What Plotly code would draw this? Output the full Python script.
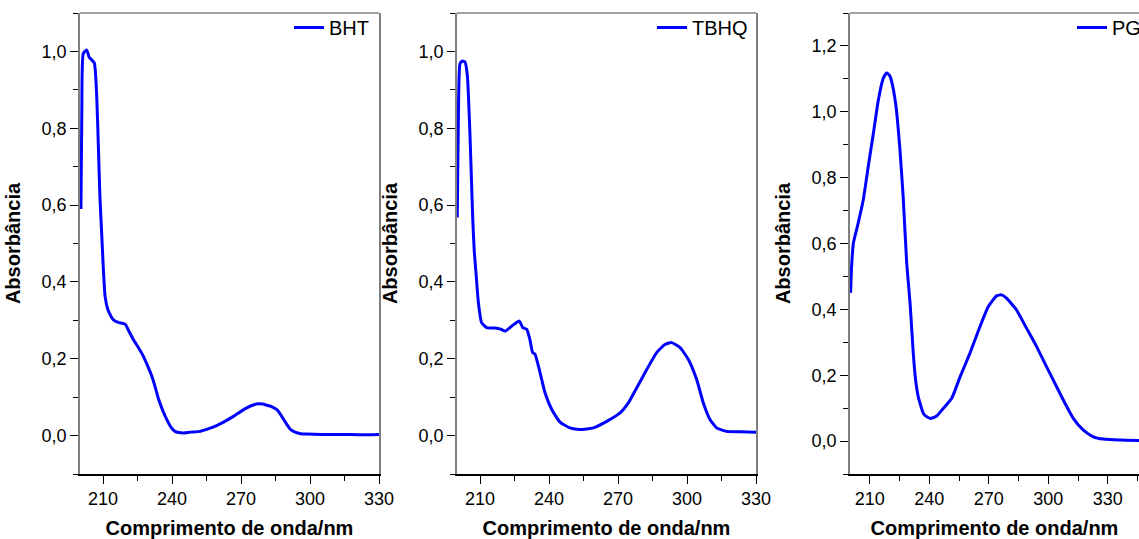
import plotly.graph_objects as go

# ---------------- data ----------------
bht_wl = [200.4, 200.8, 201.4, 202.9, 204.0, 206.2, 207.3, 208.0, 208.7, 209.4, 210.1, 210.9,
          212.0, 213.0, 214.0, 215.2, 217.0, 219.6, 221.0, 223.2, 225.5, 227.5, 229.5, 231.2,
          232.5, 234.0, 236.0, 237.7, 239.5, 241.3, 243.0, 244.9, 248.0, 252.2, 256.0, 259.4,
          263.0, 266.7, 270.0, 272.5, 275.0, 277.5, 279.5, 281.2, 283.5, 285.5, 287.5, 289.9,
          291.5, 293.5, 296.0, 298.6, 305.0, 315.0, 322.0, 330.0]
bht_abs = [0.59, 0.85, 0.994, 1.004, 0.985, 0.97, 0.877, 0.75, 0.616, 0.53, 0.44, 0.363,
           0.33, 0.316, 0.305, 0.298, 0.294, 0.29, 0.275, 0.25, 0.228, 0.207, 0.18, 0.155,
           0.13, 0.098, 0.065, 0.042, 0.022, 0.011, 0.008, 0.007, 0.009, 0.011, 0.018, 0.026,
           0.037, 0.05, 0.063, 0.072, 0.079, 0.083, 0.082, 0.079, 0.075, 0.068, 0.052, 0.029,
           0.016, 0.009, 0.005, 0.004, 0.003, 0.003, 0.002, 0.003]

tbhq_wl = [200.1, 200.7, 201.3, 202.3, 203.5, 204.5, 205.6, 206.8, 207.5, 208.3, 209.3, 210.7,
           212.9, 216.5, 219.0, 220.9, 223.8, 227.1, 228.6, 230.3, 231.7, 232.9, 233.9, 236.1,
           238.3, 241.2, 244.8, 249.1, 253.5, 259.3, 265.1, 270.9, 274.5, 278.1, 282.5, 286.8,
           290.4, 293.3, 297.0, 300.6, 304.2, 307.1, 310.0, 312.9, 317.2, 323.0, 330.0]
tbhq_abs = [0.568, 0.877, 0.968, 0.975, 0.972, 0.937, 0.79, 0.572, 0.48, 0.42, 0.346, 0.294,
            0.281, 0.28, 0.277, 0.272, 0.285, 0.298, 0.281, 0.277, 0.25, 0.216, 0.212, 0.164,
            0.111, 0.068, 0.035, 0.02, 0.016, 0.02, 0.037, 0.059, 0.085, 0.124, 0.172, 0.216,
            0.237, 0.242, 0.229, 0.198, 0.146, 0.085, 0.042, 0.02, 0.011, 0.01, 0.009]

pg_wl = [200.3, 200.8, 201.7, 203.7, 206.7, 209.2, 211.8, 214.3, 216.8, 218.5, 220.0, 221.0,
         223.2, 225.2, 226.9, 228.6, 230.3, 231.9, 233.0, 234.4, 237.0, 238.5, 240.3, 241.5,
         243.7, 247.0, 251.3, 255.5, 260.5, 265.5, 269.7, 273.9, 276.4, 278.9, 284.0, 289.0,
         294.1, 299.1, 304.2, 308.4, 312.6, 317.7, 322.7, 327.8, 336.2, 345.8]
pg_abs = [0.45, 0.53, 0.601, 0.651, 0.733, 0.834, 0.935, 1.036, 1.102, 1.118, 1.11, 1.092,
          1.016, 0.884, 0.733, 0.54, 0.419, 0.267, 0.19, 0.135, 0.084, 0.075, 0.069, 0.07,
          0.076, 0.099, 0.13, 0.195, 0.267, 0.347, 0.408, 0.441, 0.444, 0.434, 0.398, 0.343,
          0.287, 0.226, 0.165, 0.115, 0.069, 0.033, 0.013, 0.006, 0.003, 0.002]

series_names = ["BHT", "TBHQ", "PG"]
x_title = "Comprimento de onda/nm"
y_title = "Absorbância"

# ---------------- layout geometry ----------------
W, H = 1139, 539
ML, MR, MT, MB = 80, 0, 13, 65
PW = W - ML - MR
PH = H - MT - MB

def fx(px):
    return (px - ML) / PW

panels = [
    dict(x=bht_wl, y=bht_abs, dom=[fx(80), fx(379)], xr=[200, 330], yr=[-0.1, 1.1], leg_x=fx(289)),
    dict(x=tbhq_wl, y=tbhq_abs, dom=[fx(457), fx(756)], xr=[200, 330], yr=[-0.1, 1.1], leg_x=fx(652)),
    dict(x=pg_wl, y=pg_abs, dom=[fx(850), 1.0], xr=[200, 345.74], yr=[-0.1, 1.3], leg_x=fx(1072)),
]

FONT = "Arial, 'Liberation Sans', sans-serif"
fig = go.Figure()

for i, (p, name) in enumerate(zip(panels, series_names)):
    n = "" if i == 0 else str(i + 1)
    fig.add_trace(go.Scatter(
        x=p["x"], y=p["y"], mode="lines", name=name,
        line=dict(color="#0000FF", width=3, shape="spline", smoothing=0.5),
        xaxis="x" + n, yaxis="y" + n,
        legend="legend" + n,
    ))
    fig.update_layout({
        "xaxis" + n: dict(
            domain=p["dom"], range=p["xr"], anchor="y" + n,
            showline=True, linecolor="black", linewidth=1.5, mirror=False,
            ticks="outside", ticklen=8, tickwidth=1.2, tickcolor="black",
            tick0=210, dtick=30,
            minor=dict(ticks="outside", ticklen=5, tickwidth=1.2, tickcolor="black",
                       tick0=210, dtick=15, showgrid=False),
            showgrid=False, zeroline=False,
            tickfont=dict(family=FONT, size=18, color="black"),
            title=dict(text="<b>" + x_title + "</b>", standoff=14,
                       font=dict(family=FONT, size=20, color="black")),
        ),
        "yaxis" + n: dict(
            domain=[0, 1], range=p["yr"], anchor="x" + n,
            showline=True, linecolor="#808080", linewidth=1.5,
            mirror=(i < 2),
            ticks="outside", ticklen=8, tickwidth=1.2, tickcolor="black",
            tick0=0, dtick=0.2, tickformat=".1f",
            minor=dict(ticks="outside", ticklen=5, tickwidth=1.2, tickcolor="black",
                       tick0=0, dtick=0.1, showgrid=False),
            showgrid=False, zeroline=False,
            tickfont=dict(family=FONT, size=18, color="black"),
            title=dict(text="<b>" + y_title + "</b>", standoff=16,
                       font=dict(family=FONT, size=20, color="black")),
        ),
        "legend" + n: dict(
            x=p["leg_x"], xanchor="left", y=1.0 + 5.0 / PH, yanchor="top",
            bgcolor="rgba(0,0,0,0)", borderwidth=0,
            font=dict(family=FONT, size=20, color="black"),
        ),
    })
    # top frame line (grey)
    fig.add_shape(type="line", xref="x" + n + " domain", yref="y" + n + " domain",
                  x0=0, x1=1, y0=1, y1=1, line=dict(color="#808080", width=1.5))

fig.update_layout(
    width=W, height=H,
    margin=dict(l=ML, r=MR, t=MT, b=MB, autoexpand=False),
    paper_bgcolor="white", plot_bgcolor="white",
    separators=",.",
    showlegend=True,
    font=dict(family=FONT, color="black"),
)

fig.write_html("out.html")
